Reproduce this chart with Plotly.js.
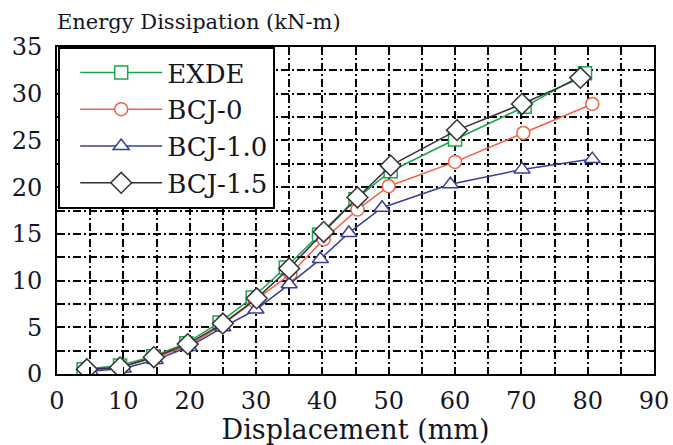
<!DOCTYPE html>
<html>
<head>
<meta charset="utf-8">
<script src="https://cdn.plot.ly/plotly-3.0.1.min.js"></script>
<style>html,body{margin:0;padding:0;background:#fff;}#chart{width:673px;height:445px;}</style>
</head>
<body>
<div id="chart"></div>
<script>
const seriesNames = ["EXDE", "BCJ-0", "BCJ-1.0", "BCJ-1.5"];
const exdeX = [4, 9.5, 14.5, 19.5, 24.5, 29.5, 34.5, 39.5, 45, 50.3, 60, 70.5, 79.6];
const exdeY = [0.5, 0.9, 1.9, 3.3, 5.5, 8.2, 11.4, 14.9, 18.7, 21.7, 25.1, 28.6, 32.2];
const bcj0X = [4.5, 9.8, 14.8, 19.8, 24.8, 29.8, 35.2, 40.2, 45.3, 50, 60, 70.3, 80.7];
const bcj0Y = [0.3, 0.8, 1.8, 3.0, 5.2, 7.8, 10.7, 14.4, 17.6, 20.1, 22.7, 25.8, 28.9];
const bcj10X = [5, 10, 14.8, 19.9, 25, 30, 35, 39.7, 44, 49, 59.3, 70.1, 80.7];
const bcj10Y = [0.3, 0.6, 1.5, 2.9, 5.0, 6.9, 9.6, 12.3, 15.1, 17.8, 20.3, 21.9, 23.0];
const bcj15X = [4.5, 9.5, 14.6, 19.7, 25, 30.1, 35, 40.2, 45.3, 50.3, 60.3, 70.1, 78.9];
const bcj15Y = [0.5, 0.7, 1.8, 3.2, 5.4, 8.1, 11.3, 15.2, 18.9, 22.3, 26.1, 28.9, 31.7];
const xTickVals = [0, 5, 10, 15, 20, 25, 30, 35, 40, 45, 50, 55, 60, 65, 70, 75, 80, 85, 90];
const xTickText = ["0", "", "10", "", "20", "", "30", "", "40", "", "50", "", "60", "", "70", "", "80", "", "90"];
const yTickVals = [0, 2.5, 5, 7.5, 10, 12.5, 15, 17.5, 20, 22.5, 25, 27.5, 30, 32.5, 35];
const yTickText = ["0", "", "5", "", "10", "", "15", "", "20", "", "25", "", "30", "", "35"];
const colors = ["#1fa24e", "#f0624a", "#383c98", "#333333"];
const symbols = ["square", "circle", "triangle-up", "diamond"];
const xs = [exdeX, bcj0X, bcj10X, bcj15X];
const ys = [exdeY, bcj0Y, bcj10Y, bcj15Y];

const traces = seriesNames.map((n, i) => ({
  x: xs[i], y: ys[i], name: n, type: "scatter", mode: "lines+markers",
  legendgroup: n,
  line: {color: colors[i], width: 1.5},
  marker: {symbol: symbols[i], size: i === 3 ? 16 : (i === 2 ? 14 : 13), color: "white",
           line: {color: colors[i], width: 1.5}},
  cliponaxis: true
}));

const fontFam = "'DejaVu Serif', serif";
const txtCol = "#151525";
const gridDash = "8px,3px,2px,3px";

const axisCommon = {
  ticks: "inside", ticklen: 7, tickwidth: 1.5, tickcolor: "black",
  showline: true, linewidth: 2, linecolor: "black", mirror: "ticks",
  showgrid: true, gridcolor: "black", gridwidth: 2, griddash: gridDash,
  zeroline: false, tickfont: {family: fontFam, size: 24, color: txtCol},
  tickmode: "array"
};

const layout = {
  width: 673, height: 445,
  margin: {l: 57, r: 19, t: 47, b: 71},
  paper_bgcolor: "white", plot_bgcolor: "white",
  font: {family: fontFam, color: txtCol, size: 24},
  title: {text: "Energy Dissipation (kN-m)", x: 57/673, xanchor: "left", xref: "container",
          y: 1 - 22/445, yanchor: "middle", yref: "container",
          font: {family: fontFam, size: 21, color: txtCol}},
  showlegend: true,
  legend: {x: 0.002, y: 1, xanchor: "left", yanchor: "top",
           bgcolor: "white", bordercolor: "black", borderwidth: 2,
           font: {family: fontFam, size: 26, color: txtCol},
           tracegroupgap: 0, itemwidth: 97},
  xaxis: Object.assign({}, axisCommon, {
    range: [0, 90], tickvals: xTickVals, ticktext: xTickText, ticklabelstandoff: 4,
    title: {text: "Displacement (mm)", font: {family: fontFam, size: 27, color: txtCol}, standoff: 15}
  }),
  yaxis: Object.assign({}, axisCommon, {
    range: [0, 35], tickvals: yTickVals, ticktext: yTickText, ticklabelstandoff: 8
  })
};

const gd = document.getElementById("chart");
Plotly.newPlot(gd, traces, layout, {displayModeBar: false, staticPlot: true}).then(() => {
  // lengthen the legend sample lines and centre their markers, like the reference key
  gd.querySelectorAll(".legend .traces").forEach(t => {
    t.querySelectorAll(".legendlines path").forEach(p => p.setAttribute("d", "M20,0h82"));
    t.querySelectorAll(".legendpoints path").forEach(p => p.setAttribute("transform", "translate(61,0)"));
  });
});
</script>
</body>
</html>
